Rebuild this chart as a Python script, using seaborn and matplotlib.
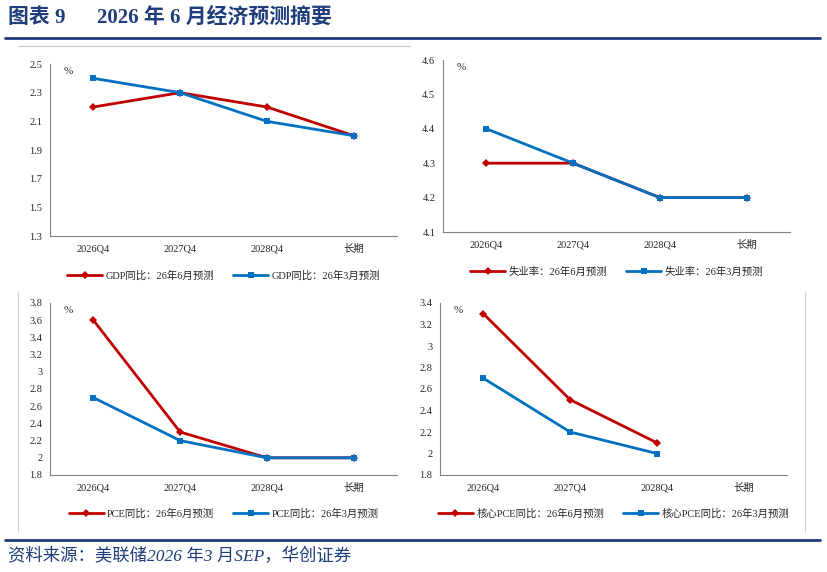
import numpy as np
import pandas as pd
import matplotlib
matplotlib.use("Agg")
import matplotlib.pyplot as plt
from matplotlib.lines import Line2D
import seaborn as sns

sns.set_style("white")
plt.rcParams['font.family'] = ['Liberation Serif', 'Noto Sans CJK SC']

# data
periods = ["2026Q4", "2027Q4", "2028Q4", "长期"]

gdp_jun = [2.2, 2.3, 2.2, 2.0]
gdp_mar = [2.4, 2.3, 2.1, 2.0]

unemp_jun = [4.3, 4.3, 4.2, 4.2]
unemp_mar = [4.4, 4.3, 4.2, 4.2]

pce_jun = [3.6, 2.3, 2.0, 2.0]
pce_mar = [2.7, 2.2, 2.0, 2.0]

core_jun = [3.3, 2.5, 2.1, np.nan]
core_mar = [2.7, 2.2, 2.0, np.nan]

RED = "#C00000"
BLUE = "#0070C0"
NAVY = "#1F3D7A"

W, H = 827, 572
fig = plt.figure(figsize=(W / 100, H / 100), dpi=100)


def px_axes(left, top, right, bottom):
    return fig.add_axes([left / W, 1 - bottom / H, (right - left) / W, (bottom - top) / H])


def panel(rect, jun, mar, name, yticks, legend_y):
    ax = px_axes(*rect)
    df = pd.DataFrame({"period": periods, "jun": jun, "mar": mar})
    sns.lineplot(data=df, x="period", y="jun", ax=ax, color=RED, lw=2,
                 marker="D", markersize=4.5, markeredgewidth=0, sort=False)
    sns.lineplot(data=df, x="period", y="mar", ax=ax, color=BLUE, lw=2,
                 marker="s", markersize=4.5, markeredgewidth=0, sort=False)
    ax.set_xlim(-0.5, 3.5)
    ax.set_ylim(yticks[0], yticks[-1])
    ax.set_yticks(yticks)
    ax.set_yticklabels([f"{v:g}" for v in yticks])
    ax.set_xticks(range(4))
    ax.set_xticklabels(periods)
    ax.set_xticks(np.arange(-0.5, 4, 1), minor=True)
    ax.tick_params(axis="x", which="major", length=0, pad=6, labelsize=7.5)
    ax.tick_params(axis="x", which="minor", length=3.5, color="#808080", direction="out")
    ax.tick_params(axis="y", length=3.5, color="#808080", direction="out", labelsize=7.5, pad=2)
    ax.set_xlabel("")
    ax.set_ylabel("")
    for s in ["top", "right"]:
        ax.spines[s].set_visible(False)
    for s in ["left", "bottom"]:
        ax.spines[s].set_color("#808080")
        ax.spines[s].set_linewidth(0.8)
    ax.text(0.04, 0.985, "%", transform=ax.transAxes, fontsize=8, va="top", ha="left")
    handles = [
        Line2D([], [], color=RED, lw=2, marker="D", markersize=4.5, markeredgewidth=0),
        Line2D([], [], color=BLUE, lw=2, marker="s", markersize=4.5, markeredgewidth=0),
    ]
    labels = [f"{name}：26年6月预测", f"{name}：26年3月预测"]
    cx = (rect[0] + rect[2]) / 2 / W
    fig.legend(handles, labels, loc="center", bbox_to_anchor=(cx, 1 - legend_y / H),
               ncol=2, frameon=False, fontsize=7.5, handlelength=3.4, columnspacing=1.8,
               handletextpad=0.3)
    return ax


panel((50, 64, 397, 236), gdp_jun, gdp_mar, "GDP同比",
      np.round(np.arange(1.3, 2.51, 0.2), 1), 276)
panel((443, 60, 790, 232), unemp_jun, unemp_mar, "失业率",
      np.round(np.arange(4.1, 4.61, 0.1), 1), 272)
panel((50, 303, 397, 475), pce_jun, pce_mar, "PCE同比",
      np.round(np.arange(1.8, 3.81, 0.2), 1), 514)
panel((440, 303, 787, 475), core_jun, core_mar, "核心PCE同比",
      np.round(np.arange(1.8, 3.41, 0.2), 1), 514)

# title and frame decorations
fig.text(8 / W, 1 - 17 / H, "图表 9      2026 年 6 月经济预测摘要", fontsize=15,
         fontweight="bold", color=NAVY, va="center", ha="left",
         family=["Liberation Serif", "Noto Sans CJK SC"])
fig.add_artist(Line2D([5 / W, 820 / W], [1 - 38 / H, 1 - 38 / H], color=NAVY, lw=2))
fig.add_artist(Line2D([18 / W, 410 / W], [1 - 46 / H, 1 - 46 / H], color="#C8C8C8", lw=0.8))
fig.add_artist(Line2D([18 / W, 18 / W], [1 - 292 / H, 1 - 532 / H], color="#D0D0D0", lw=0.8))
fig.add_artist(Line2D([805 / W, 805 / W], [1 - 292 / H, 1 - 532 / H], color="#D0D0D0", lw=0.8))
fig.add_artist(Line2D([5 / W, 820 / W], [1 - 540 / H, 1 - 540 / H], color=NAVY, lw=2))
fig.text(8 / W, 1 - 557 / H, "资料来源：美联储2026 年3 月SEP，华创证券", fontsize=12.5,
         style="italic", color=NAVY, va="center", ha="left",
         family=["Liberation Serif", "Noto Sans CJK SC"])

fig.savefig("out.png", dpi=100)
